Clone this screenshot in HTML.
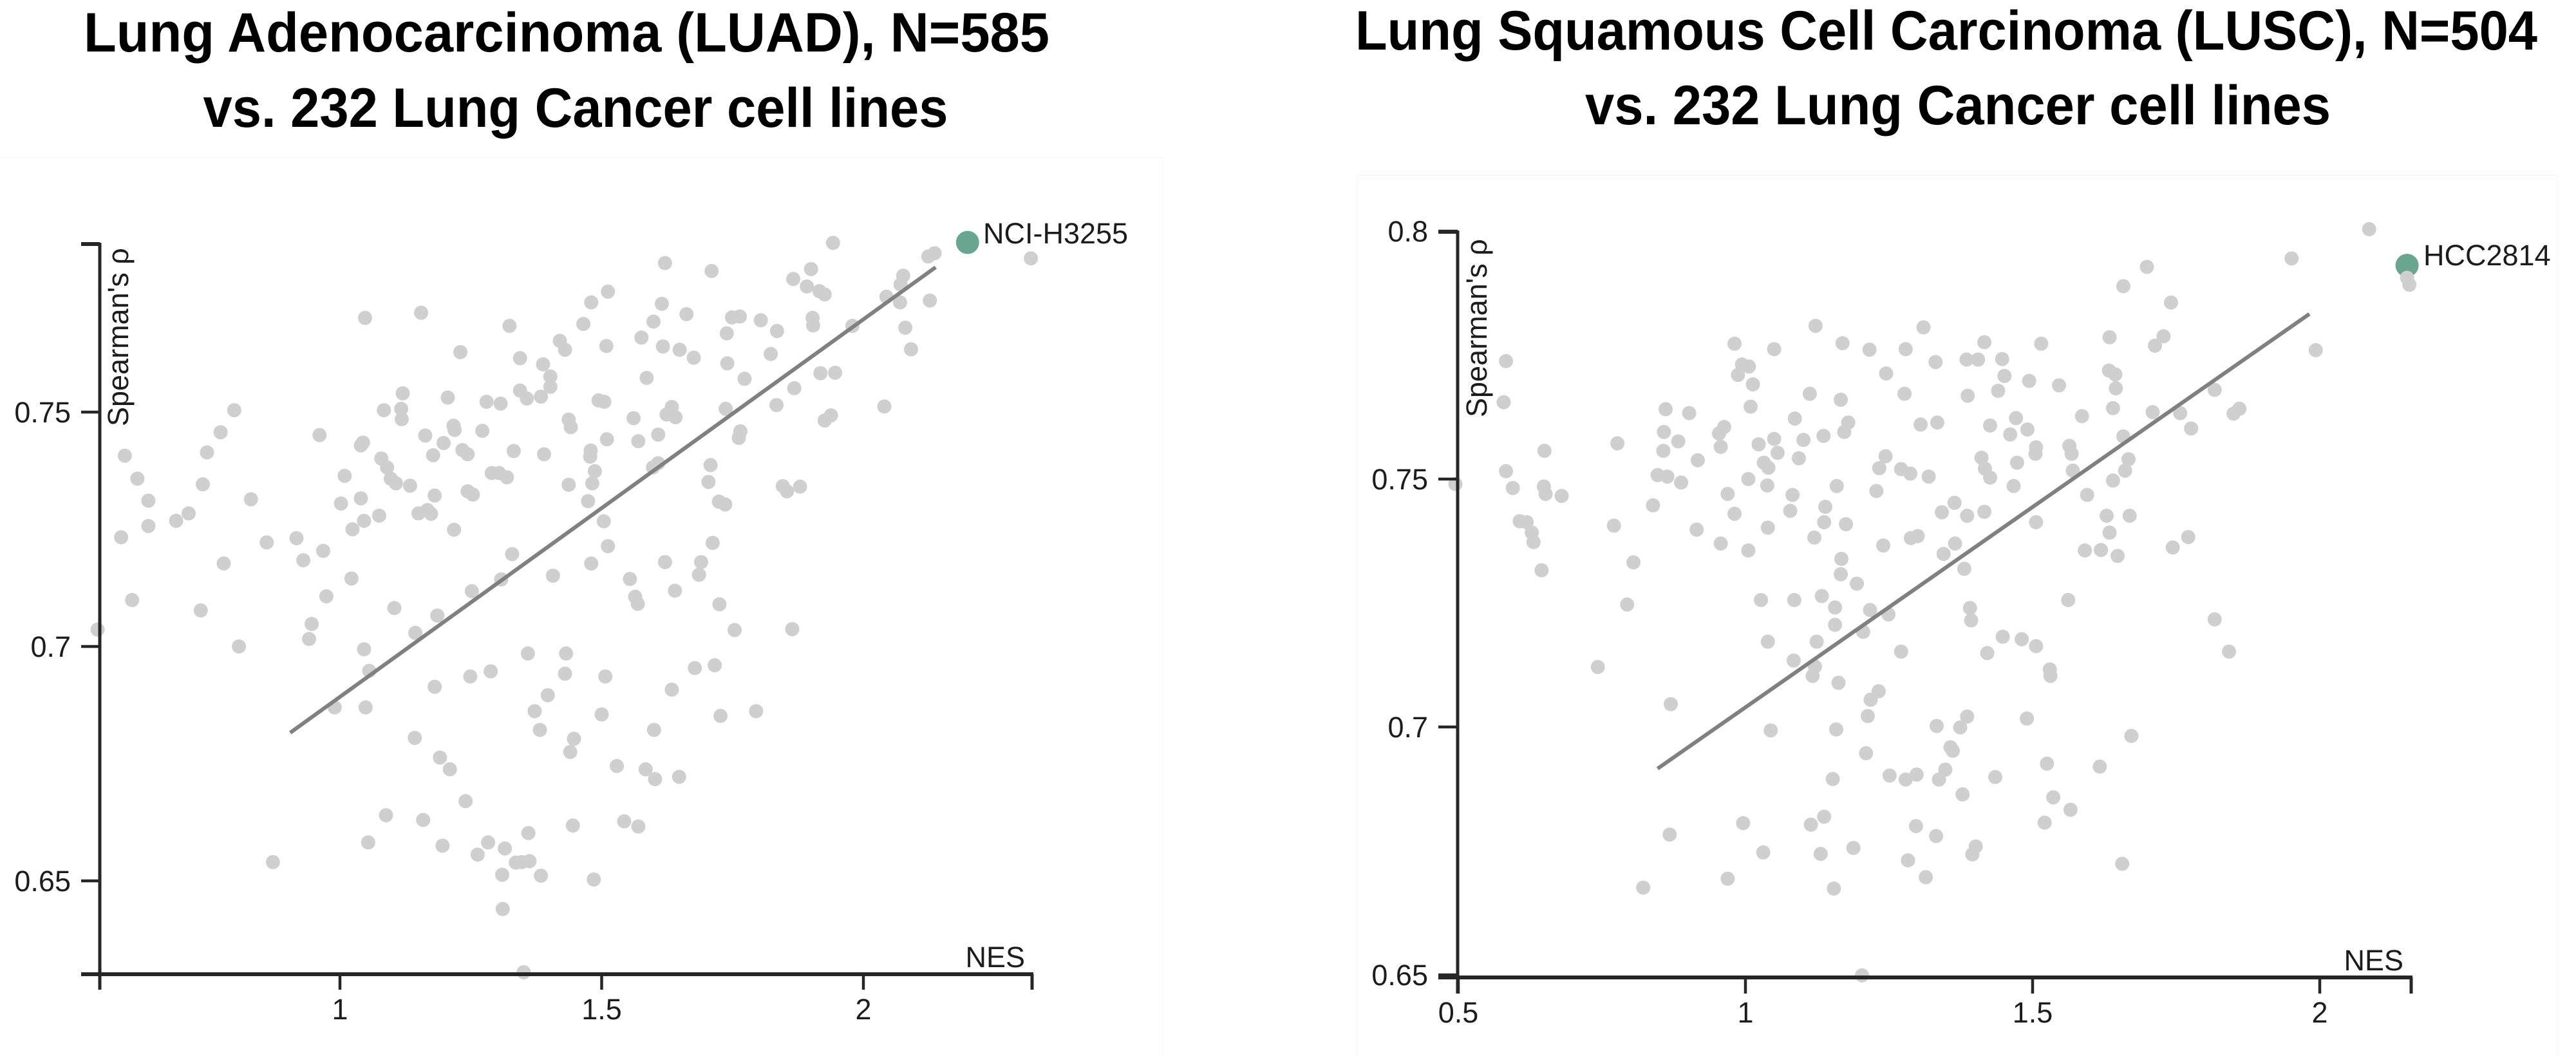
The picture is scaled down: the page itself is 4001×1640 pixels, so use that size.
<!DOCTYPE html>
<html lang="en">
<head>
<meta charset="utf-8">
<title>Lung cancer NES vs Spearman correlation</title>
<style>
html,body{margin:0;padding:0;background:#fff;}
svg{display:block;}
text{font-family:"Liberation Sans",Arial,sans-serif;fill:#1c1c1c;}
.title{font-weight:700;font-size:86px;fill:#000;text-anchor:middle;}
</style>
</head>
<body>
<svg id="figure" xmlns="http://www.w3.org/2000/svg" width="4001" height="1640" viewBox="0 0 4001 1640">
  <rect x="-5" y="245" width="1812" height="1400" fill="#fff" stroke="#fbfbfb" stroke-width="2"/>
  <rect x="2108" y="272" width="1864" height="1373" fill="#fff" stroke="#f8f8f8" stroke-width="2"/>
  <text class="title" x="880" y="80" textLength="1500" lengthAdjust="spacingAndGlyphs">Lung Adenocarcinoma (LUAD), N=585</text>
  <text class="title" x="894" y="197" textLength="1157" lengthAdjust="spacingAndGlyphs">vs. 232 Lung Cancer cell lines</text>
  <text class="title" x="3023" y="77" textLength="1836" lengthAdjust="spacingAndGlyphs">Lung Squamous Cell Carcinoma (LUSC), N=504</text>
  <text class="title" x="3041" y="193" textLength="1158" lengthAdjust="spacingAndGlyphs">vs. 232 Lung Cancer cell lines</text>
  <g id="luad-chart"></g>
  <g id="lusc-chart"></g>
</svg>
<script>
const luadXTicks = [1, 1.5, 2];
const luadXTickLabels = ['1', '1.5', '2'];
const luadYTicks = [0.65, 0.7, 0.75];
const luadYTickLabels = ['0.65', '0.7', '0.75'];
const luadHighlightName = ['NCI-H3255'];
const luadHighlightNes = [2.199];
const luadHighlightRho = [0.7862];
const luadTrendNes = [0.905, 2.138];
const luadTrendRho = [0.6816, 0.7809];
const luadNes = [
1.048,1.155,1.324,1.230,1.480,1.465,1.512,1.420,1.430,1.509,1.344,1.388,1.402,1.402,1.344,1.357,1.384,1.206,1.120,1.280,1.307,1.084,1.117,1.118,0.798,0.772,0.961,0.589,0.746,0.613,0.738,0.634,0.830,0.711,0.687,0.634,0.582,0.860,0.917,0.968,0.930,0.778,0.603,0.734,1.022,0.974,1.104,0.946,1.186,0.537,
1.217,1.219,1.272,1.163,1.198,1.178,1.234,1.244,1.332,1.390,1.437,1.441,1.494,1.505,1.510,1.479,1.478,1.487,1.482,1.437,1.474,1.504,1.512,1.480,1.407,1.329,1.308,1.252,1.040,1.044,1.079,1.090,1.097,1.107,1.134,1.009,1.040,1.002,1.075,1.046,1.024,1.181,1.150,1.167,1.174,1.218,1.244,1.254,1.290,1.304,1.319,
1.621,1.710,1.942,1.900,1.866,1.892,1.916,1.926,1.615,1.662,1.599,1.576,1.617,1.649,1.676,1.749,1.764,1.804,1.739,1.835,1.903,1.904,1.823,1.740,1.586,1.773,1.868,1.918,1.946,1.979,2.044,2.070,2.071,2.076,2.127,2.080,2.091,2.124,2.136,2.320,1.834,2.040,1.938,1.926,1.737,1.561,1.570,1.608,1.634,1.624,1.641,1.765,1.762,1.708,1.704,1.608,1.598,1.846,1.854,1.879,1.724,1.736,1.712,1.621,1.690,1.686,1.554,1.640,1.564,1.569,1.725,1.754,1.864,
0.807,0.941,1.144,1.046,1.056,1.288,1.249,1.181,0.990,1.049,1.359,1.432,1.430,1.507,1.397,1.372,1.500,1.382,1.447,1.440,1.143,1.191,1.210,1.240,1.088,1.159,1.054,1.196,1.360,1.445,1.283,1.315,1.263,1.336,1.347,1.362,0.872,1.310,1.384,1.485,1.311,1.351,
1.529,1.584,1.602,1.648,1.543,1.570,1.600,1.634,1.678,1.716,1.727,1.795
];
const luadRho = [
0.7701,0.7712,0.7684,0.7628,0.7734,0.7688,0.7757,0.7652,0.7633,0.7641,0.7615,0.7602,0.7576,0.7554,0.7546,0.7529,0.7533,0.7531,0.7540,0.7522,0.7518,0.7504,0.7507,0.7485,0.7504,0.7457,0.7451,0.7407,0.7414,0.7358,0.7346,0.7311,0.7314,0.7284,0.7268,0.7257,0.7233,0.7222,0.7231,0.7204,0.7184,0.7177,0.7099,0.7077,0.7145,0.7107,0.7082,0.7048,0.7066,0.7036,
0.7471,0.7462,0.7460,0.7450,0.7434,0.7408,0.7419,0.7410,0.7417,0.7410,0.7484,0.7468,0.7525,0.7522,0.7442,0.7418,0.7405,0.7374,0.7348,0.7345,0.7310,0.7267,0.7214,0.7177,0.7151,0.7197,0.7143,0.7118,0.7429,0.7435,0.7401,0.7382,0.7358,0.7348,0.7343,0.7364,0.7316,0.7305,0.7279,0.7268,0.7250,0.7322,0.7284,0.7291,0.7283,0.7249,0.7331,0.7324,0.7370,0.7370,0.7361,
0.7818,0.7801,0.7861,0.7805,0.7784,0.7768,0.7758,0.7751,0.7731,0.7709,0.7693,0.7659,0.7640,0.7633,0.7616,0.7702,0.7704,0.7696,0.7668,0.7673,0.7701,0.7685,0.7624,0.7604,0.7573,0.7571,0.7551,0.7583,0.7584,0.7684,0.7746,0.7734,0.7772,0.7791,0.7738,0.7680,0.7634,0.7832,0.7839,0.7828,0.7515,0.7512,0.7493,0.7482,0.7507,0.7487,0.7438,0.7452,0.7511,0.7495,0.7489,0.7459,0.7445,0.7387,0.7351,0.7391,0.7382,0.7342,0.7331,0.7341,0.7309,0.7303,0.7221,0.7180,0.7180,0.7153,0.7144,0.7119,0.7106,0.7091,0.7090,0.7035,0.7037,
0.7000,0.7016,0.7029,0.6994,0.6948,0.6947,0.6936,0.6914,0.6870,0.6870,0.6985,0.6985,0.6942,0.6936,0.6896,0.6862,0.6855,0.6822,0.6803,0.6775,0.6805,0.6763,0.6738,0.6670,0.6640,0.6630,0.6582,0.6575,0.6602,0.6618,0.6582,0.6569,0.6556,0.6539,0.6540,0.6542,0.6540,0.6513,0.6511,0.6503,0.6440,0.6305,
0.6745,0.6738,0.6717,0.6722,0.6627,0.6616,0.6822,0.6908,0.6954,0.6960,0.6852,0.6862
];

const luscXTicks = [0.5, 1, 1.5, 2];
const luscXTickLabels = ['0.5', '1', '1.5', '2'];
const luscYTicks = [0.65, 0.7, 0.75, 0.8];
const luscYTickLabels = ['0.65', '0.7', '0.75', '0.8'];
const luscHighlightName = ['HCC2814'];
const luscHighlightNes = [2.152];
const luscHighlightRho = [0.7931];
const luscTrendNes = [0.847, 1.982];
const luscTrendRho = [0.6916, 0.7833];
const luscNes = [
0.583,0.579,1.122,1.310,0.981,1.050,1.169,1.216,1.279,1.331,0.994,1.006,0.987,1.013,1.245,1.112,1.166,1.277,1.009,1.086,1.179,1.172,1.136,1.101,1.305,1.334,0.861,0.902,0.963,0.954,0.858,0.883,0.857,0.957,1.050,1.023,1.056,0.777,0.650,0.917,1.093,1.244,1.233,1.271,1.287,1.319,1.032,1.040,0.583,0.595,0.649,0.652,0.680,0.847,0.864,0.888,1.005,1.038,0.969,1.159,1.228,1.082,0.495,0.839,1.139,1.078,0.981,1.364,1.342,0.607,0.619,0.628,0.631,0.771,0.915,1.039,1.137,1.175,1.120,0.957,1.005,1.240,1.288,1.300,1.365,1.345,0.805,0.645,1.167,1.166,1.194,0.794,1.027,1.085,1.133,1.156,1.217,1.249,1.156,
1.416,1.385,1.405,1.447,1.515,1.634,1.699,1.658,1.741,1.728,1.713,1.951,2.086,1.451,1.440,1.387,1.494,1.546,1.633,1.644,1.645,1.640,1.709,1.757,1.817,1.860,1.850,1.993,1.586,1.426,1.471,1.491,1.461,1.776,1.658,1.506,1.505,1.564,1.568,1.411,1.417,1.426,1.473,1.667,1.661,1.570,1.640,1.467,1.595,1.386,1.416,1.629,1.669,1.506,1.634,1.771,1.744,1.591,1.619,1.648,1.381,1.562,1.391,1.393,1.817,2.152,2.156,
1.039,1.124,1.205,1.084,1.271,0.743,1.121,1.117,1.162,0.870,1.232,1.218,1.213,1.044,1.158,1.333,1.210,1.374,1.357,1.361,1.152,1.251,1.279,1.298,1.348,1.337,1.378,0.996,1.114,1.137,0.868,1.297,1.332,1.031,1.131,1.188,1.283,1.314,0.969,0.822,1.154,1.203,
1.448,1.481,1.506,1.421,1.842,1.530,1.531,1.386,1.490,1.672,1.435,1.525,1.617,1.536,1.566,1.521,1.401,1.395,1.656
];
const luscRho = [
0.7738,0.7655,0.7809,0.7806,0.7773,0.7762,0.7774,0.7761,0.7762,0.7736,0.7731,0.7727,0.7710,0.7691,0.7713,0.7672,0.7660,0.7672,0.7646,0.7622,0.7614,0.7595,0.7587,0.7579,0.7610,0.7614,0.7641,0.7633,0.7605,0.7592,0.7595,0.7576,0.7557,0.7565,0.7581,0.7570,0.7553,0.7572,0.7557,0.7538,0.7542,0.7546,0.7522,0.7520,0.7511,0.7505,0.7533,0.7523,0.7516,0.7482,0.7485,0.7470,0.7466,0.7508,0.7505,0.7493,0.7500,0.7487,0.7470,0.7486,0.7476,0.7468,0.7490,0.7447,0.7444,0.7436,0.7430,0.7452,0.7433,0.7415,0.7413,0.7392,0.7373,0.7406,0.7398,0.7402,0.7413,0.7409,0.7382,0.7370,0.7356,0.7366,0.7381,0.7385,0.7370,0.7349,0.7332,0.7316,0.7339,0.7308,0.7289,0.7247,0.7256,0.7256,0.7264,0.7241,0.7236,0.7227,0.7206,
0.7776,0.7741,0.7741,0.7742,0.7773,0.7786,0.7928,0.7889,0.7856,0.7788,0.7769,0.7945,0.8004,0.7708,0.7678,0.7668,0.7698,0.7689,0.7719,0.7711,0.7683,0.7643,0.7635,0.7633,0.7680,0.7642,0.7632,0.7760,0.7627,0.7608,0.7623,0.7600,0.7590,0.7602,0.7586,0.7564,0.7551,0.7567,0.7551,0.7543,0.7521,0.7503,0.7533,0.7540,0.7517,0.7517,0.7497,0.7486,0.7468,0.7426,0.7434,0.7426,0.7426,0.7413,0.7392,0.7383,0.7362,0.7356,0.7357,0.7345,0.7319,0.7256,0.7240,0.7215,0.7217,0.7906,0.7892,
0.7172,0.7172,0.7192,0.7134,0.7152,0.7121,0.7122,0.7103,0.7089,0.7046,0.7072,0.7055,0.7022,0.6993,0.6995,0.7002,0.6947,0.6999,0.6959,0.6952,0.6895,0.6902,0.6894,0.6904,0.6914,0.6894,0.6864,0.6806,0.6803,0.6819,0.6783,0.6800,0.6780,0.6747,0.6744,0.6756,0.6731,0.6697,0.6694,0.6676,0.6674,0.6499,
0.7182,0.7177,0.7163,0.7149,0.7152,0.7116,0.7103,0.7021,0.7017,0.6982,0.6899,0.6926,0.6920,0.6858,0.6833,0.6807,0.6759,0.6743,0.6724
];

const SVG_NS = 'http://www.w3.org/2000/svg';
function xAxisScale(anchorValue, anchorPx, pxPerUnit) {
  return function (v) { return anchorPx + (v - anchorValue) * pxPerUnit; };
}
function yAxisScale(anchorValue, anchorPx, pxPerUnit) {
  return function (v) { return anchorPx - (v - anchorValue) * pxPerUnit; };
}
function addLine(parent, x1, y1, x2, y2, color, width, name) {
  const el = document.createElementNS(SVG_NS, 'line');
  
  
  el.setAttribute('x1', x1);
  el.setAttribute('y1', y1);
  el.setAttribute('x2', x2);
  el.setAttribute('y2', y2);
  el.setAttribute('stroke', color);
  el.setAttribute('stroke-width', width);
  parent.appendChild(el);
  return el;
}
function addText(parent, x, y, str, anchor, name, rotate) {
  const el = document.createElementNS(SVG_NS, 'text');
  
  
  el.setAttribute('x', x);
  el.setAttribute('y', y);
  el.setAttribute('font-size', '45');
  el.setAttribute('text-anchor', anchor);
  if (rotate) el.setAttribute('transform', 'rotate(-90 ' + x + ' ' + y + ')');
  el.textContent = str;
  parent.appendChild(el);
  return el;
}
function addDot(parent, cx, cy, r, color, name) {
  const el = document.createElementNS(SVG_NS, 'circle');
  
  
  el.setAttribute('cx', cx);
  el.setAttribute('cy', cy);
  el.setAttribute('r', r);
  el.setAttribute('fill', color);
  parent.appendChild(el);
  return el;
}
function drawChart(g, o) {
  const x = o.x, y = o.y;
  addDot(g, x(o.hNes[0]), y(o.hRho[0]), 18, '#69a68f', 'highlighted-cell-line-point');
  for (let i = 0; i < o.nes.length; i++) {
    addDot(g, x(o.nes[i]), y(o.rho[i]), 11, '#cfcfcf', 'cell-line-point');
  }
  addLine(g, x(o.tNes[0]), y(o.tRho[0]), x(o.tNes[1]), y(o.tRho[1]), '#808080', 6, 'trend-line');

  const axisColor = '#262626';
  addLine(g, o.yAxisX, o.axisTop - 2, o.yAxisX, o.tickBottom, axisColor, 5, 'y-axis-line');
  addLine(g, o.yTickLeft, o.axisTop, o.yAxisX, o.axisTop, axisColor, 6, 'y-axis-end-tick');
  addLine(g, o.yTickLeft, o.xAxisY, o.xAxisEnd + 2, o.xAxisY, axisColor, 6, 'x-axis-line');
  addLine(g, o.xAxisEnd, o.xAxisY, o.xAxisEnd, o.tickBottom, axisColor, 5, 'x-axis-end-tick');
  for (let i = 0; i < o.xTicks.length; i++) {
    addLine(g, x(o.xTicks[i]), o.xAxisY, x(o.xTicks[i]), o.tickBottom, axisColor, 4.5, 'x-axis-tick');
    addText(g, x(o.xTicks[i]), o.xLabelY, o.xLabels[i], 'middle', 'x-axis-tick-label');
  }
  for (let i = 0; i < o.yTicks.length; i++) {
    addLine(g, o.yTickLeft, y(o.yTicks[i]), o.yAxisX, y(o.yTicks[i]), axisColor, 4.5, 'y-axis-tick');
    addText(g, o.yLabelX, y(o.yTicks[i]) + 16, o.yLabels[i], 'end', 'y-axis-tick-label');
  }
  addText(g, o.nesX, o.nesY, 'NES', 'end', 'x-axis-title');
  addText(g, o.rhoX, o.rhoY, "Spearman's ρ", 'start', 'y-axis-title', true);
  addText(g, o.hLabelX, o.hLabelY, o.hName[0], 'start', 'highlighted-cell-line-label');
}

drawChart(document.getElementById('luad-chart'), {
  x: xAxisScale(1, 528, 813), y: yAxisScale(0.7, 1004, 7280),
  nes: luadNes, rho: luadRho, hNes: luadHighlightNes, hRho: luadHighlightRho, hName: luadHighlightName,
  tNes: luadTrendNes, tRho: luadTrendRho,
  xTicks: luadXTicks, xLabels: luadXTickLabels, yTicks: luadYTicks, yLabels: luadYTickLabels,
  yAxisX: 155, yTickLeft: 126, axisTop: 379, xAxisY: 1513, xAxisEnd: 1603, tickBottom: 1537,
  xLabelY: 1583, yLabelX: 110, nesX: 1592, nesY: 1502, rhoX: 199, rhoY: 662,
  hLabelX: 1527, hLabelY: 378
});
drawChart(document.getElementById('lusc-chart'), {
  x: xAxisScale(0.5, 2265, 892), y: yAxisScale(0.7, 1129, 7700),
  nes: luscNes, rho: luscRho, hNes: luscHighlightNes, hRho: luscHighlightRho, hName: luscHighlightName,
  tNes: luscTrendNes, tRho: luscTrendRho,
  xTicks: luscXTicks, xLabels: luscXTickLabels, yTicks: luscYTicks, yLabels: luscYTickLabels,
  yAxisX: 2264, yTickLeft: 2234, axisTop: 360, xAxisY: 1518, xAxisEnd: 3745, tickBottom: 1543,
  xLabelY: 1588, yLabelX: 2218, nesX: 3733, nesY: 1507, rhoX: 2309, rhoY: 648,
  hLabelX: 3764, hLabelY: 412
});
</script>
</body>
</html>
